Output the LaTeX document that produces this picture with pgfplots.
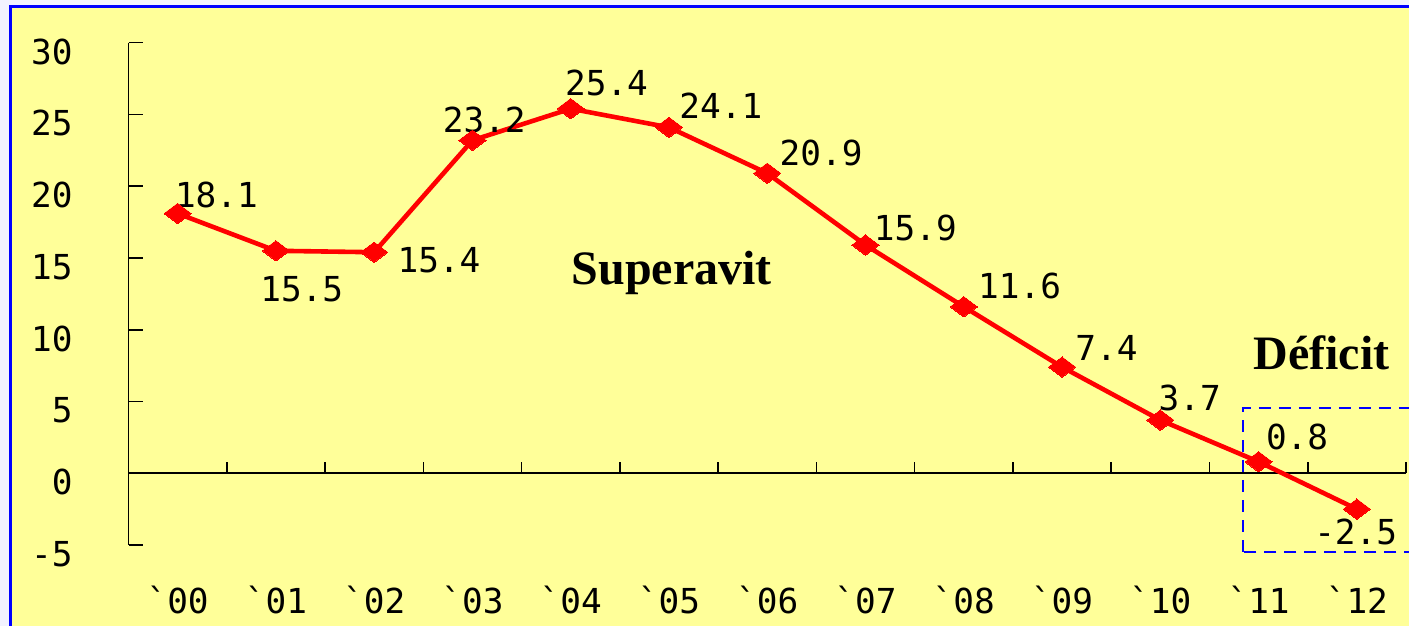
\documentclass[border=0pt]{standalone}
\usepackage{pgfplots}
\pgfplotsset{compat=1.18}
\usepackage{fontspec}
\newfontfamily\monof{DejaVu Sans Mono}
\newfontfamily\serifb{Liberation Serif}
\definecolor{bgyellow}{RGB}{255,255,153}
\definecolor{lav}{RGB}{242,242,255}
\definecolor{fblue}{RGB}{0,0,255}
\begin{document}
\begin{tikzpicture}
\path[use as bounding box] (0,0) rectangle (704.5bp,313bp);
\fill[lav] (0,0) rectangle (704.5bp,313bp);
\filldraw[fill=bgyellow, draw=fblue, line width=1.5bp] (5bp,-5bp) rectangle (712bp,309.5bp);
\begin{axis}[
  at={(64.25bp,40.5bp)}, anchor=south west,
  scale only axis, width=638.75bp, height=251.15bp,
  xmin=-0.5, xmax=12.5, ymin=-5, ymax=30,
  clip=false,
  axis line style={draw=none},
  xtick={0,...,12},
  xticklabels={\textasciigrave00,\textasciigrave01,\textasciigrave02,\textasciigrave03,\textasciigrave04,\textasciigrave05,\textasciigrave06,\textasciigrave07,\textasciigrave08,\textasciigrave09,\textasciigrave10,\textasciigrave11,\textasciigrave12},
  xtick style={draw=none},
  ytick={-5,0,5,10,15,20,25,30},
  yticklabels={-5,0,5,10,15,20,25,30},
  ytick pos=left, tick align=inside,
  ytick style={black, line width=0.8bp},
  major tick length=7.5bp,
  tick label style={font=\monof\fontsize{17.2bp}{20bp}\selectfont, inner sep=0pt},
  yticklabel style={anchor=base east, xshift=-27.75bp, yshift=-10.75bp},
  xticklabel style={anchor=base, yshift=-34.5bp},
]
\draw[black, line width=0.8bp] (axis cs:-0.5,-5) -- (axis cs:-0.5,30);
\draw[black, line width=0.8bp] (axis cs:-0.5,0) -- (axis cs:12.5,0);
\draw[black, line width=0.8bp] (axis cs:0.5,0) -- (axis cs:0.5,0.8);
\draw[black, line width=0.8bp] (axis cs:1.5,0) -- (axis cs:1.5,0.8);
\draw[black, line width=0.8bp] (axis cs:2.5,0) -- (axis cs:2.5,0.8);
\draw[black, line width=0.8bp] (axis cs:3.5,0) -- (axis cs:3.5,0.8);
\draw[black, line width=0.8bp] (axis cs:4.5,0) -- (axis cs:4.5,0.8);
\draw[black, line width=0.8bp] (axis cs:5.5,0) -- (axis cs:5.5,0.8);
\draw[black, line width=0.8bp] (axis cs:6.5,0) -- (axis cs:6.5,0.8);
\draw[black, line width=0.8bp] (axis cs:7.5,0) -- (axis cs:7.5,0.8);
\draw[black, line width=0.8bp] (axis cs:8.5,0) -- (axis cs:8.5,0.8);
\draw[black, line width=0.8bp] (axis cs:9.5,0) -- (axis cs:9.5,0.8);
\draw[black, line width=0.8bp] (axis cs:10.5,0) -- (axis cs:10.5,0.8);
\draw[black, line width=0.8bp] (axis cs:11.5,0) -- (axis cs:11.5,0.8);
\draw[black, line width=0.8bp] (axis cs:12.5,0) -- (axis cs:12.5,0.8);
\addplot[red, line width=2.3bp, mark=diamond*, mark size=6.8bp, mark options={rotate=90, fill=red, draw=red, line width=0pt}] coordinates {
(0,18.1) (1,15.5) (2,15.4) (3,23.2) (4,25.4) (5,24.1) (6,20.9) (7,15.9) (8,11.6) (9,7.4) (10,3.7) (11,0.8) (12,-2.5)
};
\draw[fblue, line width=1bp, dash pattern=on 6bp off 4bp] (axis cs:10.84,-5.48) rectangle (axis cs:12.7,4.55);
\begin{scope}[every node/.style={font=\monof\fontsize{17.2bp}{20bp}\selectfont, inner sep=0pt, anchor=base west}]
\node at ([shift={(-1.5bp,3bp)}]axis cs:0,18.1) {18.1};
\node at ([shift={(-8bp,-25.5bp)}]axis cs:1,15.5) {15.5};
\node at ([shift={(11.5bp,-10bp)}]axis cs:2,15.4) {15.4};
\node at ([shift={(-15bp,4bp)}]axis cs:3,23.2) {23.2};
\node at ([shift={(-3bp,6.5bp)}]axis cs:4,25.4) {25.4};
\node at ([shift={(5bp,4.5bp)}]axis cs:5,24.1) {24.1};
\node at ([shift={(6bp,4bp)}]axis cs:6,20.9) {20.9};
\node at ([shift={(4bp,2.5bp)}]axis cs:7,15.9) {15.9};
\node at ([shift={(7bp,4bp)}]axis cs:8,11.6) {11.6};
\node at ([shift={(6.5bp,3.5bp)}]axis cs:9,7.4) {7.4};
\node at ([shift={(-1bp,5bp)}]axis cs:10,3.7) {3.7};
\node at ([shift={(3.5bp,6bp)}]axis cs:11,0.8) {0.8};
\node at ([shift={(-21.5bp,-17.5bp)}]axis cs:12,-2.5) {-2.5};
\end{scope}
\node[font=\serifb\bfseries\fontsize{24bp}{28bp}\selectfont, inner sep=0pt] at (axis cs:5.03,13.96) {Superavit};
\node[font=\serifb\bfseries\fontsize{24bp}{28bp}\selectfont, inner sep=0pt] at (axis cs:11.64,8.38) {Déficit};
\end{axis}
\end{tikzpicture}
\end{document}
